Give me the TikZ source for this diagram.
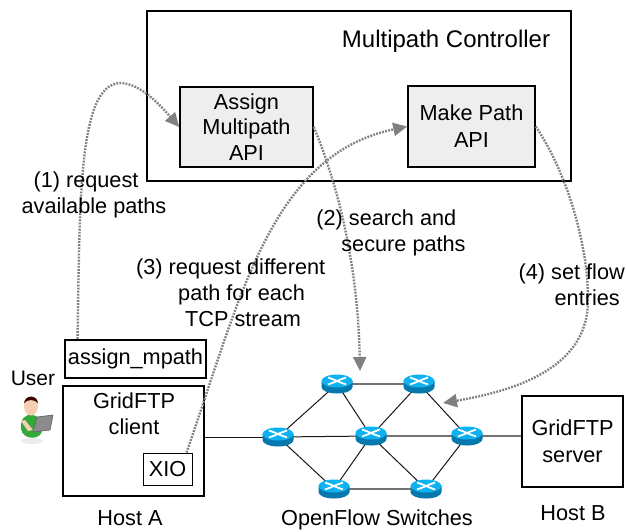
\documentclass[tikz,border=0pt]{standalone}
\usepackage{fontspec}
\setmainfont{Liberation Sans}
\usetikzlibrary{arrows.meta,shapes.geometric}
\definecolor{apifill}{HTML}{EEEEEE}
\definecolor{dotgray}{HTML}{808080}
\definecolor{rtop}{HTML}{0FB2F0}
\definecolor{rside}{HTML}{0578AE}
\definecolor{skin}{HTML}{F5CDB0}
\definecolor{shirt}{HTML}{35A83A}
\tikzset{
  lbl/.style={font=\fontsize{21.7}{26}\selectfont,align=center,inner sep=0pt},
  hostbox/.style={draw=black,line width=2pt,fill=white,inner sep=0pt,font=\fontsize{21.7}{27}\selectfont,align=center},
  apibox/.style={hostbox,fill=apifill,line width=1.6pt},
  rt/.style={ellipse,minimum width=28pt,minimum height=17pt,inner sep=0pt},
  dotline/.style={draw=dotgray,line width=2.4pt,dash pattern=on 1.8pt off 1.3pt,-{Triangle[length=14pt,width=13pt,fill=dotgray]}},
  thin link/.style={draw=black!90,line width=1pt},
  gray link/.style={draw=black!55,line width=1.5pt},
  pics/router/.style={code={
    \fill[rside] (-15.5,-3) -- (-15.5,3) arc[start angle=180,end angle=0,x radius=15.5,y radius=6.5] -- (15.5,-3) -- cycle;
    \fill[rtop] (0,-3) ellipse[x radius=15.5,y radius=6.5];
    \draw[white,line width=1.8pt] (-9,-6.5) -- (-3,-4.3) -- (3,-1.7) -- (9,0.5);
    \draw[white,line width=1.8pt] (-9,0.5) -- (-3,-1.7) -- (3,-4.3) -- (9,-6.5);
  }}
}
\begin{document}
\begin{tikzpicture}[x=1pt,y=-1pt]
\useasboundingbox (0,0) rectangle (626,531);
% boxes
\node[hostbox,minimum width=424pt,minimum height=170pt] (ctrl) at (359,96) {};
\node[lbl,font=\fontsize{24}{28}\selectfont] (ctrllbl) at (446,41.5) {Multipath Controller};
\node[apibox,minimum width=133pt,minimum height=80pt] (assign) at (246.5,127) {Assign\\[-1.5pt]Multipath\\[-1.5pt]API};
\node[apibox,minimum width=127pt,minimum height=81pt] (make) at (471.5,126.5) {Make Path\\API};
\node[hostbox,minimum width=141pt,minimum height=38pt] (mp) at (135.5,359) {assign\_mpath};
\node[hostbox,minimum width=141pt,minimum height=110pt] (client) at (133.5,441) {};
\node[lbl] (clientlbl) at (134,414) {GridFTP\\client};
\node[draw=black,line width=1pt,fill=white,minimum width=49pt,minimum height=32pt,inner sep=0pt,font=\fontsize{21.7}{26}\selectfont] (xio) at (167.5,469) {XIO};
\node[hostbox,minimum width=101pt,minimum height=91pt] (server) at (572.5,441.5) {GridFTP\\server};
% routers
\node[rt] (r1) at (337,384) {};
\node[rt] (r2) at (419,384) {};
\node[rt] (r3) at (278,437) {};
\node[rt] (r4) at (371,436) {};
\node[rt] (r5) at (467,436) {};
\node[rt] (r6) at (334,489) {};
\node[rt] (r7) at (426,489) {};
\coordinate (tip4) at (443,403);
\coordinate (tip2) at (360,371);
% links
\draw[gray link] (r1) -- (r2);
\draw[gray link] (r6) -- (r7);
\draw[gray link] (r4) -- (r5);
\draw[gray link] (r5) -- (r5 -| server.west);
\draw[thin link] (client.east |- r3) -- (r3);
\draw[thin link] (r3) -- (r4);
\foreach \a/\b in {r1/r3,r1/r4,r2/r4,r2/r5,r3/r6,r4/r6,r4/r7,r5/r7}
  \draw[thin link] (\a) -- (\b);
\foreach \r in {r1,r2,r3,r4,r5,r6,r7}
  \pic at (\r) {router};
% dotted connectors
\draw[dotline] ([xshift=-58pt]mp.north) .. controls (80,200) and (78,85) .. (120,83) .. controls (140,83) and (160,105) .. (assign.west);
\draw[dotline] (assign.east) .. controls (340,190) and (358,270) .. (tip2);
\draw[dotline] ([xshift=19pt]xio.north) .. controls (240,300) and (270,155) .. (make.west);
\draw[dotline] (make.east) .. controls (565,170) and (588,240) .. (588,300) .. controls (588,350) and (550,385) .. (tip4);
% labels
\node[lbl] (l1) at (94,195) {(1) request\hspace*{16pt}\\available paths};
\node[lbl,align=left] (l2) at (391,232.5) {(2) search and\\\hspace*{25pt}secure paths};
\node[lbl,align=left,anchor=west] (l3) at (136,293) {(3) request different\\\hspace*{42pt}path for each\\\hspace*{49pt}TCP stream};
\node[lbl,align=right,anchor=east] (l4) at (625,285) {(4) set flow\\entries\hspace*{5pt}};
\node[lbl,font=\fontsize{21}{26}\selectfont] (user) at (33,378) {User};
\node[lbl] (hosta) at (130,518) {Host A};
\node[lbl] (sw) at (377,520) {OpenFlow Switches};
\node[lbl] (hostb) at (573,513) {Host B};
% user figure
\fill[black!8] (32,441) ellipse[x radius=11,y radius=3];
\fill[shirt] (21,429) .. controls (20,418) and (26,414) .. (32,415) .. controls (38,415) and (42,420) .. (42,430) .. controls (42,440) and (23,441) .. (21,429) -- cycle;
\fill[skin] (31,406) ellipse[x radius=7,y radius=9.5];
\fill[black!70!red!70!black] (24,403) .. controls (25,395) and (37,394) .. (38,403) .. controls (34,399) and (28,399) .. (24,403) -- cycle;
\fill[black!45,draw=black!60,line width=0.7pt] (37,417) -- (53,415) -- (50,430) -- (33,432) -- cycle;
\fill[skin] (21,421) -- (25,420) -- (33,430) -- (28,431) -- cycle;
\end{tikzpicture}
\end{document}
